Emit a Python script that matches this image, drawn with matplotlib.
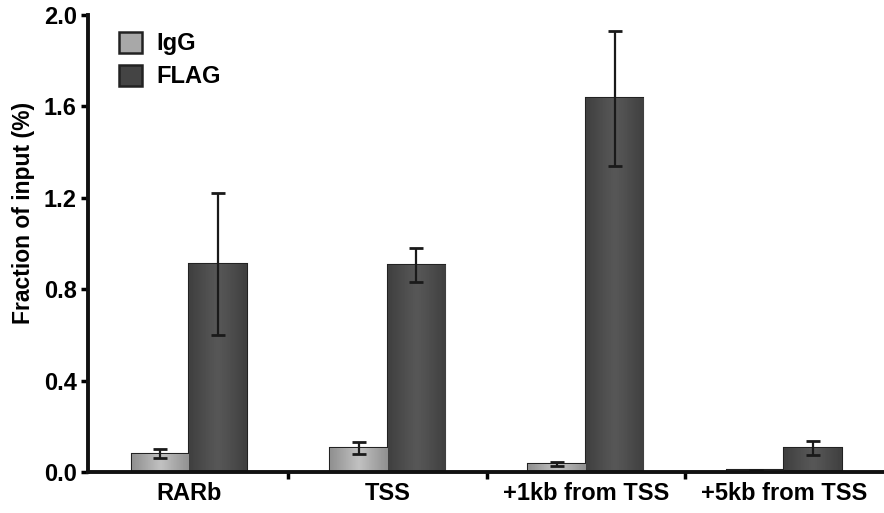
import matplotlib.pyplot as plt
import numpy as np

plt.rcParams['font.family'] = ['Liberation Sans', 'DejaVu Sans']
plt.rcParams['font.weight'] = 'bold'

categories = ['RARb', 'TSS', '+1kb from TSS', '+5kb from TSS']
igg = [0.08, 0.105, 0.035, 0.01]
igg_err = [0.02, 0.028, 0.008, 0.0]
flag = [0.91, 0.905, 1.635, 0.105]
flag_err = [0.31, 0.075, 0.295, 0.03]

x = np.arange(len(categories))
w = 0.29

fig = plt.figure(figsize=(8.84, 5.13), dpi=100)
ax = fig.add_axes([0.0995, 0.08, 0.9, 0.891])

err_kw = dict(ecolor='#1a1a1a', elinewidth=1.6, capsize=5, capthick=2)
b1 = ax.bar(x - w / 2, igg, w, yerr=igg_err, color='#b0b0b0', edgecolor='#222222',
            linewidth=1.5, label='IgG', error_kw=err_kw)
b2 = ax.bar(x + w / 2, flag, w, yerr=flag_err, color='#424242', edgecolor='#222222',
            linewidth=1.5, label='FLAG', error_kw=err_kw)

# soft horizontal shading like the original bars
prof = np.abs(np.linspace(-1, 1, 64))[None, :]
for bars, base, amp in ((b1, 0.36, 0.16), (b2, 0.73, 0.07)):
    for r in bars:
        x0, y0 = r.get_x(), r.get_y()
        bw, bh = r.get_width(), r.get_height()
        if bh <= 0:
            continue
        im = ax.imshow(base + amp * prof, cmap='Greys', vmin=0, vmax=1,
                       extent=(x0, x0 + bw, y0, y0 + bh), aspect='auto',
                       zorder=r.get_zorder() + 0.1)
        im.set_clip_path(r)

ax.set_xlim(-0.51, 3.5)
ax.set_ylim(0, 2.0)
ax.set_yticks([0.0, 0.4, 0.8, 1.2, 1.6, 2.0])
ax.set_yticklabels(['0.0', '0.4', '0.8', '1.2', '1.6', '2.0'], fontsize=17, fontweight='bold')
ax.set_xticks(x, categories, fontsize=17, fontweight='bold')
ax.set_xticks([0.5, 1.5, 2.5], minor=True)
ax.tick_params(axis='x', which='major', length=0, pad=7)
ax.tick_params(axis='x', which='minor', length=5, width=2.5, direction='out')
ax.tick_params(axis='y', length=5, width=2.5, direction='out', pad=3)

for s in ('top', 'right'):
    ax.spines[s].set_visible(False)
for s in ('left', 'bottom'):
    ax.spines[s].set_linewidth(2.8)
    ax.spines[s].set_color('#111111')

ax.set_ylabel('Fraction of input (%)', fontsize=16.5, fontweight='bold')
ax.yaxis.set_label_coords(-0.067, 0.566)

leg = ax.legend(loc='upper left', bbox_to_anchor=(0.012, 1.01), frameon=False, fontsize=17,
                handlelength=1.0, handleheight=1.0, handletextpad=0.6, labelspacing=0.4)
for h in leg.legend_handles:
    h.set_edgecolor('#222222')
    h.set_linewidth(1.8)
leg.legend_handles[0].set_facecolor('#a8a8a8')
leg.legend_handles[1].set_facecolor('#444444')

fig.savefig('out.png', dpi=100)
